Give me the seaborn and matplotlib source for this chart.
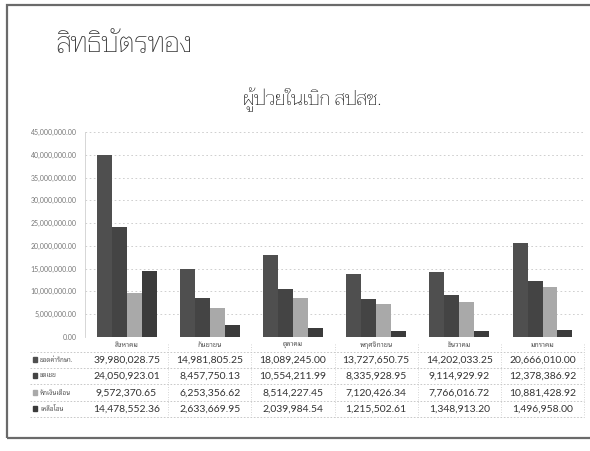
import matplotlib
matplotlib.use('Agg')
import matplotlib.pyplot as plt
import matplotlib.transforms as mtransforms
from matplotlib.patches import Rectangle
import pandas as pd
import seaborn as sns

months = ['สิงหาคม', 'กันยายน', 'ตุลาคม', 'พฤศจิกายน', 'ธันวาคม', 'มกราคม']
series = ['ยอดค่ารักษา.', 'ชดเชย', 'หักเงินเดือน', 'เหลือโอน']
treat_total = [39980028.75, 14981805.25, 18089245.00, 13727650.75, 14202033.25, 20666010.00]
compensation = [24050923.01, 8457750.13, 10554211.99, 8335928.95, 9114929.92, 12378386.92]
salary_deduct = [9572370.65, 6253356.62, 8514227.45, 7120426.34, 7766016.72, 10881428.92]
remaining = [14478552.36, 2633669.95, 2039984.54, 1215502.61, 1348913.20, 1496958.00]
colors = ['#4f4f4f', '#444444', '#a9a9a9', '#3b3b3b']

values = [treat_total, compensation, salary_deduct, remaining]
rows = []
for s, vals in zip(series, values):
    for m, v in zip(months, vals):
        rows.append({'month': m, 'series': s, 'value': v})
df = pd.DataFrame(rows)

sns.set_theme(style='white')
plt.rcParams['font.family'] = ['Lato', 'Noto Sans Thai Looped', 'DejaVu Sans']

fig = plt.figure(figsize=(5.9, 4.51), dpi=100)
ax = fig.add_axes([0.144, 0.253, 0.846, 0.454])

sns.barplot(data=df, x='month', y='value', hue='series', palette=colors,
            width=0.72, gap=0, legend=False, ax=ax, saturation=1,
            linewidth=0, edgecolor='none')

ax.set_ylim(0, 45000000)
ax.set_yticks(range(0, 45000001, 5000000))
ax.set_yticklabels(['{:,.2f}'.format(t) for t in range(0, 45000001, 5000000)],
                   fontsize=5, color='#777777')
ax.set_xlim(-0.5, 5.5)
ax.set_xlabel('')
ax.set_ylabel('')
ax.tick_params(axis='x', labelsize=5, colors='#555555', pad=3, length=0)
ax.tick_params(axis='y', length=0, pad=6)
ax.grid(axis='y', color='#c8c8c8', linestyle=(0, (2, 3)), linewidth=0.6)
ax.set_axisbelow(True)
for side in ['top', 'right', 'bottom']:
    ax.spines[side].set_visible(False)
ax.spines['left'].set_color('#d0d0d0')
ax.spines['left'].set_linewidth(0.6)

# data table under the chart
trans = mtransforms.blended_transform_factory(ax.transData, ax.transAxes)
row_y = [-0.112, -0.19, -0.273, -0.351]
line_y = [-0.073, -0.151, -0.232, -0.312, -0.39]
for i, (s, vals) in enumerate(zip(series, values)):
    for j, v in enumerate(vals):
        ax.text(j, row_y[i], '{:,.2f}'.format(v), transform=trans, ha='center',
                va='center', fontsize=7.5, color='#333333')
    ax.add_patch(Rectangle((-0.105, row_y[i] - 0.012), 0.009, 0.026,
                           transform=ax.transAxes, color=colors[i], clip_on=False))
    ax.text(-0.09, row_y[i], s, transform=ax.transAxes, ha='left', va='center',
            fontsize=4.5, color='#555555')
for y in line_y:
    ax.plot([-0.11, 1.0], [y, y], transform=ax.transAxes, color='#c0c0c0',
            linestyle=(0, (2, 2)), linewidth=0.6, clip_on=False)
for j in range(6):
    ax.plot([j + 0.5, j + 0.5], [line_y[0] + 0.04, line_y[-1]], transform=trans,
            color='#c8c8c8', linestyle=(0, (1, 2)), linewidth=0.6, clip_on=False)

fig.text(0.095, 0.9, 'สิทธิบัตรทอง', fontsize=20, color='#333333',
         family=['Taviraj', 'DejaVu Sans'], weight='light', va='center')
fig.text(0.53, 0.778, 'ผู้ป่วยในเบิก สปสช.', fontsize=14, color='#111111',
         family=['Taviraj', 'DejaVu Sans'], weight='light', ha='center', va='center')

fig.add_artist(Rectangle((0.012, 0.029), 1.2, 0.96, transform=fig.transFigure,
                         fill=False, edgecolor='#6a6a6a', linewidth=1.6))

fig.savefig('out.png', dpi=100)
